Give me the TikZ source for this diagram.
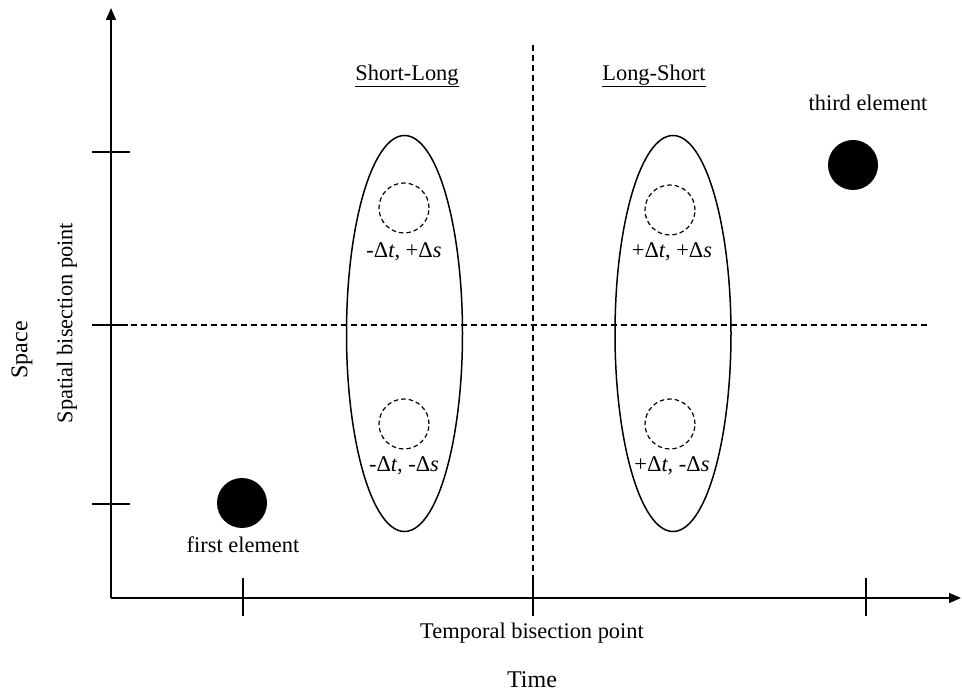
\documentclass[tikz,border=0pt]{standalone}
\usepackage{fontspec}
\setmainfont{Liberation Serif}
\usetikzlibrary{arrows.meta,shapes.geometric}
\tikzset{
  axis/.style={line width=1.6pt,-{Triangle[length=12pt,width=10pt]}},
  tick/.style={line width=1.5pt},
  guide/.style={line width=1.2pt,dash pattern=on 6pt off 4pt},
  zone/.style={draw,line width=1.5pt,ellipse,inner sep=0pt},
  probe/.style={draw,circle,line width=1.2pt,dash pattern=on 4.5pt off 3pt,minimum size=50pt,inner sep=0pt},
  stim/.style={fill=black,circle,minimum size=50pt,inner sep=0pt},
  lbl/.style={font=\fontsize{22.4}{26}\selectfont,inner sep=0pt},
  big/.style={font=\fontsize{24}{28}\selectfont,inner sep=0pt}
}
\begin{document}
\begin{tikzpicture}[x=1pt,y=-1pt]
\useasboundingbox (0,0) rectangle (962,692);
% axes
\coordinate (O) at (111,598);
\coordinate (ytop) at (111,8);
\coordinate (xend) at (961,598);
\draw[axis] (O) -- (ytop);
\draw[axis] (O) -- (xend);
% y ticks
\coordinate (yt1a) at (92,152); \coordinate (yt1b) at (130,152);
\coordinate (yt2a) at (92,325); \coordinate (yt2b) at (128,325);
\coordinate (yt3a) at (92,504); \coordinate (yt3b) at (130,504);
\draw[tick] (yt1a) -- (yt1b);
\draw[tick] (yt2a) -- (yt2b);
\draw[tick] (yt3a) -- (yt3b);
% x ticks
\coordinate (xt1a) at (243,578); \coordinate (xt1b) at (243,616);
\coordinate (xt2a) at (533,578); \coordinate (xt2b) at (533,616);
\coordinate (xt3a) at (866,578); \coordinate (xt3b) at (866,616);
\draw[tick] (xt1a) -- (xt1b);
\draw[tick] (xt2a) -- (xt2b);
\draw[tick] (xt3a) -- (xt3b);
% bisection lines
\coordinate (hL) at (111,325); \coordinate (hR) at (929,325);
\coordinate (vT) at (533,45); \coordinate (vB) at (533,598);
\draw[guide] (hL) -- (hR);
\draw[guide] (vT) -- (vB);
% ellipses
\node[zone,minimum width=116pt,minimum height=396pt] (SL) at (404.5,333.5) {};
\node[zone,minimum width=116pt,minimum height=396pt] (LS) at (673,333.5) {};
% dashed circles
\node[probe] (c1) at (404,208) {};
\node[probe] (c2) at (404,424) {};
\node[probe] (c3) at (670,210) {};
\node[probe] (c4) at (670,424) {};
% delta labels
\node[lbl] (l1) at (404,252) {-Δ\textit{t}, +Δ\textit{s}};
\node[lbl] (l2) at (404,466) {-Δ\textit{t}, -Δ\textit{s}};
\node[lbl] (l3) at (672,252) {+Δ\textit{t}, +Δ\textit{s}};
\node[lbl] (l4) at (672,466) {+Δ\textit{t}, -Δ\textit{s}};
% titles
\node[lbl] (tSL) at (407,76) {\underline{Short-Long}};
\node[lbl] (tLS) at (654,76) {\underline{Long-Short}};
% elements
\node[stim] (e1) at (242,503) {};
\node[lbl] (e1t) at (243,545) {first element};
\node[stim] (e3) at (853,165) {};
\node[lbl] (e3t) at (868,103) {third element};
% axis labels
\node[lbl] (tb) at (532,633) {Temporal bisection point};
\node[big] (time) at (532,680) {Time};
\node[lbl,rotate=90] (sb) at (67,323) {Spatial bisection point};
\node[big,rotate=90] (space) at (22,350) {Space};
\end{tikzpicture}
\end{document}
